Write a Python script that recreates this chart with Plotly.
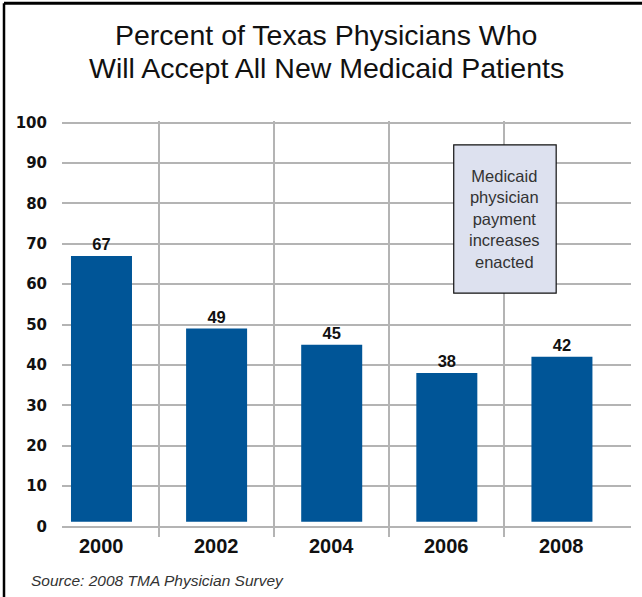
import plotly.graph_objects as go

years = ["2000", "2002", "2004", "2006", "2008"]
percent = [67, 49, 45, 38, 42]
bar_base = 1.2
y_ticks = [0, 10, 20, 30, 40, 50, 60, 70, 80, 90, 100]

title_lines = ["Percent of Texas Physicians Who", "Will Accept All New Medicaid Patients"]
note_text = "Medicaid<br>physician<br>payment<br>increases<br>enacted"
source_text = "Source: 2008 TMA Physician Survey"

xpos = list(range(len(years)))
BAR = "#005597"
GRID = "#b4b4b4"

def py(pix):
    # pixel row -> paper y (plot area spans rows 121..537)
    return (537.2 - pix) / 416

def px(pix):
    return (pix - 62) / 569

fig = go.Figure()
fig.add_trace(go.Bar(
    x=xpos, y=[v - bar_base for v in percent], base=bar_base,
    width=0.53, marker=dict(color=BAR, line=dict(width=0)),
    text=[str(v) for v in percent], textposition="outside",
    textfont=dict(family="Liberation Sans, Arial", size=16.5, color="#111", weight="bold"),
    cliponaxis=False, hoverinfo="skip",
))

annotations = [
    dict(text=title_lines[0], xref="paper", yref="paper", x=px(326), y=py(35),
         xanchor="center", yanchor="middle", showarrow=False,
         font=dict(family="Liberation Sans, Arial", size=28.5, color="#111")),
    dict(text=title_lines[1], xref="paper", yref="paper", x=px(326), y=py(68),
         xanchor="center", yanchor="middle", showarrow=False,
         font=dict(family="Liberation Sans, Arial", size=28.5, color="#111")),
    dict(text=note_text, xref="x", yref="y", x=3.505, y=76.2, showarrow=False,
         xanchor="center", yanchor="middle", align="center",
         font=dict(family="Liberation Sans, Arial", size=16.5, color="#333")),
    dict(text="<i>" + source_text + "</i>", xref="paper", yref="paper",
         x=px(29), y=py(581), xanchor="left", yanchor="middle",
         showarrow=False, font=dict(family="Liberation Sans, Arial", size=15.5, color="#333")),
]
for xp, yr in zip(xpos, years):
    annotations.append(dict(text=yr, xref="x", yref="paper", x=xp, y=py(546),
                            xanchor="center", yanchor="middle", showarrow=False,
                            font=dict(family="Liberation Sans, Arial", size=20, color="#111", weight="bold")))

fig.update_layout(
    width=642, height=597,
    margin=dict(l=62, r=11, t=121, b=60),
    paper_bgcolor="white", plot_bgcolor="white",
    showlegend=False,
    xaxis=dict(
        range=[-0.343, 4.6], tickmode="array", tickvals=xpos, ticktext=years,
        showticklabels=False,
        showgrid=False, zeroline=False, showline=False, ticks="",
        minor=dict(tickmode="array", tickvals=[0.5, 1.5, 2.5, 3.5], showgrid=True,
                   gridcolor=GRID, gridwidth=2, ticks=""),
    ),
    yaxis=dict(
        range=[-2.6, 100.4], tickmode="array", tickvals=y_ticks,
        showgrid=True, gridcolor=GRID, gridwidth=1.5, zeroline=False, showline=False,
        ticks="", ticklabelstandoff=14,
        tickfont=dict(family="DejaVu Sans", size=15, color="#111", weight="bold"),
    ),
    shapes=[
        dict(type="rect", xref="x", yref="y", x0=3.06, x1=3.95, y0=57.8, y1=94.5,
             fillcolor="#dde1ef", line=dict(color="#111", width=1.2), layer="above"),
        dict(type="line", xref="paper", yref="paper", x0=px(4), x1=px(4), y0=-0.2, y1=py(3.5),
             line=dict(color="#000", width=2.5)),
        dict(type="line", xref="paper", yref="paper", x0=px(4), x1=1.03, y0=py(3.5), y1=py(3.5),
             line=dict(color="#000", width=3)),
    ],
    annotations=annotations,
)

fig.write_html("out.html")
